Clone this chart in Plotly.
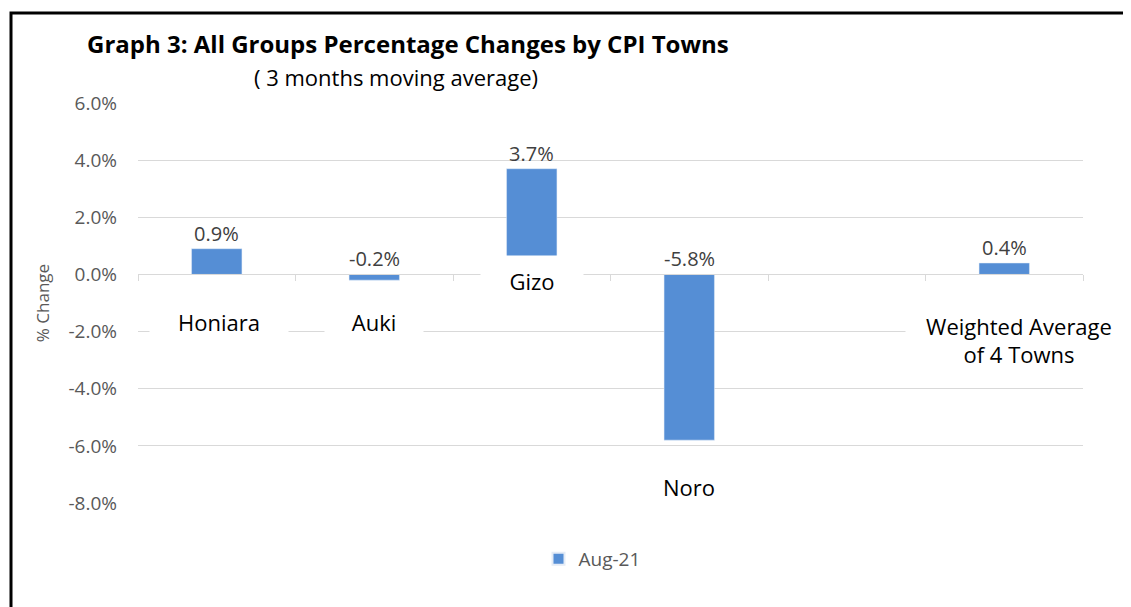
import plotly.graph_objects as go

categories = ["Honiara", "Auki", "Gizo", "Noro", " ", "Weighted Average<br>of 4 Towns"]
values = [0.9, -0.2, 3.7, -5.8, None, 0.4]
series_name = "Aug-21"
y_ticks = [6, 4, 2, 0, -2, -4, -6, -8]
# category label placement (data y) and box sizes / shifts (style)
label_y = [-1.67, -1.67, -0.23, -7.44, None, -2.3]
label_w = [138, 98, 102, 102, None, 226]
label_h = [40, 40, 50, 40, None, 68]
label_dx = [2, 0, 0, 0, None, 15]

BAR = "#558ED5"
GRID = "#D9D9D9"
FONT = "Open Sans"

OFF = 8  # page body margin
W, H = 1131 - OFF, 607 - OFF
plot_l, plot_r, plot_t, plot_b = 138 - OFF, 1083 - OFF, 103 - OFF, 503 - OFF
ml, mr, mt, mb = plot_l, W - plot_r, plot_t, H - plot_b
ymin, ymax = -8, 6

pw = W - ml - mr
ph = H - mt - mb


def px_x(p):
    return (p - OFF - ml) / pw


def px_y(p):
    return (H - mb - (p - OFF)) / ph


fig = go.Figure()
fig.add_trace(go.Bar(
    x=categories, y=values, name=series_name, marker_color=BAR,
    width=0.32, showlegend=True,
))

annotations = []
# value labels
for c, v in zip(categories, values):
    if v is None:
        continue
    annotations.append(dict(
        x=c, y=max(v, 0), xref="x", yref="y", text=f"{v:.1f}%",
        showarrow=False, yanchor="bottom", yshift=0,
        font=dict(family=FONT, size=20, color="#404040"),
    ))
# category labels with white boxes
for c, ly, w, h, dx in zip(categories, label_y, label_w, label_h, label_dx):
    if ly is None:
        continue
    annotations.append(dict(
        x=c, y=ly, xref="x", yref="y", text=c, showarrow=False,
        yanchor="middle", bgcolor="white", width=w, height=h, borderpad=0,
        xshift=dx,
        font=dict(family=FONT, size=22, color="#000000"),
    ))
# subtitle
annotations.append(dict(
    x=px_x(396), y=px_y(77), xref="paper", yref="paper", showarrow=False,
    text="( 3 months moving average)", xanchor="center", yanchor="middle",
    font=dict(family=FONT, size=22, color="#000000"),
))

fig.update_layout(
    width=W, height=H,
    margin=dict(l=ml, r=mr, t=mt, b=mb),
    paper_bgcolor="white", plot_bgcolor="white",
    title=dict(
        text="<b>Graph 3: All Groups Percentage Changes by CPI Towns</b>",
        xref="container", yref="container", x=(87 - OFF) / W,
        y=1 - (45 - OFF) / H,
        xanchor="left", yanchor="middle",
        font=dict(family=FONT, size=24, color="#000000"),
    ),
    xaxis=dict(
        type="category", showgrid=False, showticklabels=False,
        range=[-0.5, len(categories) - 0.5],
        showline=True, linecolor=GRID, linewidth=1,
        ticks="outside", tickson="boundaries", ticklen=6, tickcolor=GRID,
        anchor="free", position=(0 - ymin) / (ymax - ymin),
        fixedrange=True,
    ),
    yaxis=dict(
        range=[ymin, ymax], tickvals=y_ticks,
        ticktext=[f"{t:.1f}%" for t in y_ticks],
        showgrid=True, gridcolor=GRID, gridwidth=1.3, zeroline=False,
        tickfont=dict(family=FONT, size=19, color="#595959"),
        ticklabelstandoff=20,
        title=dict(text="% Change", standoff=14,
                   font=dict(family=FONT, size=17, color="#595959")),
        fixedrange=True,
    ),
    legend=dict(
        orientation="h", x=px_x(592), xanchor="center", y=px_y(559),
        yanchor="middle",
        font=dict(family=FONT, size=19, color="#595959"),
        itemsizing="constant", itemwidth=30,
    ),
    annotations=annotations,
    shapes=[dict(
        type="rect", xref="paper", yref="paper",
        x0=px_x(11), x1=px_x(1145), y0=px_y(620), y1=px_y(13),
        line=dict(color="black", width=3), layer="above",
    )],
    bargap=0.68,
)

fig.write_html("out.html")
